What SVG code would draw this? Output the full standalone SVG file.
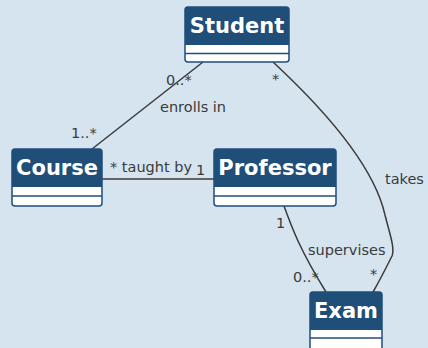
<svg xmlns="http://www.w3.org/2000/svg" width="428" height="348" viewBox="0 0 428 348">
<style>
.bg{fill:#D6E4F0}
.box{fill:#FFFFFF;stroke:#1F4E79;stroke-width:1.5}
.hdr{fill:#1F4E79}
.sep{stroke:#1F4E79;stroke-width:1.5}
.title{font-family:"DejaVu Sans",sans-serif;font-weight:bold;font-size:21px;fill:#FFFFFF;text-anchor:middle}
.lbl{font-family:"DejaVu Sans",sans-serif;font-size:14.5px;fill:#3A3A3A}
.edge{fill:none;stroke:#3A3A3A;stroke-width:1.5}
</style>
<rect class="bg" x="0" y="0" width="428" height="348"/>
<g id="connectors">
<path class="edge" d="M203,62 L92,149"/>
<path class="edge" d="M102,179 L214,179"/>
<path class="edge" d="M273,62 C330,115 375,170 385,215 C390,235 395,248 392,256 C386,268 380,280 373,292"/>
<path class="edge" d="M284,206 C292,228 300,250 326,292"/>
<text class="lbl" x="166" y="85">0..*</text>
<text class="lbl" x="160" y="112">enrolls in</text>
<text class="lbl" x="71" y="138">1..*</text>
<text class="lbl" x="110" y="172">* taught by</text>
<text class="lbl" x="196" y="175">1</text>
<text class="lbl" x="272" y="84">*</text>
<text class="lbl" x="385" y="184">takes</text>
<text class="lbl" x="370" y="279">*</text>
<text class="lbl" x="276" y="228">1</text>
<text class="lbl" x="308" y="255">supervises</text>
<text class="lbl" x="293" y="282">0..*</text>
</g>
<g id="student">
<rect class="box" x="185" y="7" width="104" height="55" rx="3"/>
<path class="hdr" d="M188,7 H286 A3,3 0 0 1 289,10 V45 H185 V10 A3,3 0 0 1 188,7 Z"/>
<line class="sep" x1="185" y1="53.5" x2="289" y2="53.5"/>
<text class="title" x="237" y="33">Student</text>
</g>
<g id="course">
<rect class="box" x="12" y="149" width="90" height="57" rx="3"/>
<path class="hdr" d="M15,149 H99 A3,3 0 0 1 102,152 V187 H12 V152 A3,3 0 0 1 15,149 Z"/>
<line class="sep" x1="12" y1="196" x2="102" y2="196"/>
<text class="title" x="57" y="175">Course</text>
</g>
<g id="professor">
<rect class="box" x="214" y="149" width="122" height="57" rx="3"/>
<path class="hdr" d="M217,149 H333 A3,3 0 0 1 336,152 V187 H214 V152 A3,3 0 0 1 217,149 Z"/>
<line class="sep" x1="214" y1="196" x2="336" y2="196"/>
<text class="title" x="275" y="175">Professor</text>
</g>
<g id="exam">
<rect class="box" x="310" y="292" width="72" height="60" rx="3"/>
<path class="hdr" d="M313,292 H379 A3,3 0 0 1 382,295 V330 H310 V295 A3,3 0 0 1 313,292 Z"/>
<line class="sep" x1="310" y1="338" x2="382" y2="338"/>
<text class="title" x="346" y="318">Exam</text>
</g>
</svg>
